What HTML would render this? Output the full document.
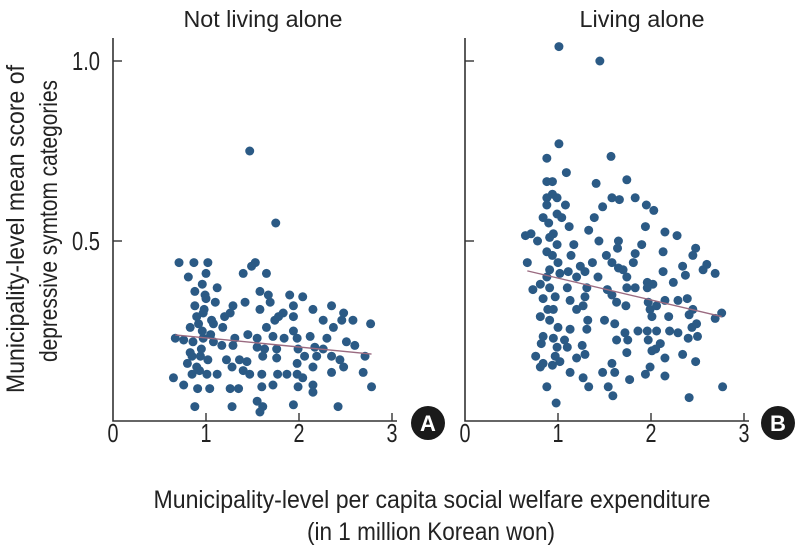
<!DOCTYPE html>
<html><head><meta charset="utf-8"><style>
html,body{margin:0;padding:0;background:#fff;width:800px;height:551px;overflow:hidden}
text{font-family:"Liberation Sans Narrow","Liberation Sans",sans-serif;fill:#222}
</style></head><body>
<svg id="chart" width="800" height="551" viewBox="0 0 800 551" xmlns="http://www.w3.org/2000/svg">
<g id="layer"></g>
</svg>
<script>
const xTicks=[0,1,2,3];
const yTicks=[0.5,1.0];
const yTickLabels=["0.5","1.0"];
const panelTitles=["Not living alone","Living alone"];
const badgeLabels=["A","B"];
const leftX=[0.71,0.87,1.02,1.0,0.81,0.96,1.12,0.88,0.99,1.1,0.88,0.97,0.90,0.83,0.96,1.08,1.18,0.67,0.76,0.86,0.97,1.08,1.17,0.83,0.94,1.02,0.80,0.90,0.85,1.01,1.12,0.65,0.76,0.91,1.04,0.88,1.28,1.26,1.35,1.22,1.36,1.28,1.47,1.29,1.31,1.2,1.29,1.42,1.26,1.4,1.49,1.53,1.65,1.58,1.67,1.69,1.58,1.65,1.74,1.83,1.78,1.9,2.04,1.94,1.94,2.15,2.26,2.35,2.48,2.58,2.46,2.77,2.37,1.94,1.45,1.55,1.72,1.84,1.98,2.12,2.3,2.51,2.6,2.71,1.55,1.63,1.76,1.61,1.76,1.99,2.06,2.17,2.19,2.26,2.35,2.44,2.48,1.98,2.15,2.35,2.69,2.78,1.77,1.87,1.98,2.04,1.99,2.15,2.15,1.6,1.6,1.72,1.55,1.61,1.58,1.94,2.42,1.4,1.44,1.47,1.75,0.92,1.05,0.95,0.85,1.0,0.93,1.06,0.98];
const leftY=[0.44,0.44,0.44,0.41,0.40,0.38,0.37,0.36,0.35,0.33,0.32,0.30,0.29,0.26,0.25,0.27,0.26,0.23,0.225,0.22,0.23,0.22,0.21,0.19,0.18,0.17,0.16,0.15,0.13,0.13,0.13,0.12,0.10,0.09,0.09,0.04,0.04,0.09,0.09,0.17,0.17,0.15,0.13,0.21,0.23,0.29,0.32,0.33,0.30,0.41,0.43,0.44,0.41,0.36,0.35,0.33,0.31,0.26,0.28,0.30,0.29,0.35,0.345,0.32,0.29,0.31,0.28,0.32,0.30,0.28,0.28,0.27,0.26,0.25,0.24,0.23,0.235,0.23,0.23,0.235,0.23,0.22,0.21,0.18,0.205,0.20,0.20,0.18,0.175,0.20,0.18,0.205,0.18,0.20,0.18,0.17,0.15,0.16,0.15,0.135,0.135,0.095,0.13,0.13,0.13,0.12,0.095,0.10,0.08,0.13,0.095,0.10,0.055,0.04,0.025,0.045,0.04,0.14,0.165,0.75,0.55,0.27,0.24,0.20,0.18,0.34,0.14,0.28,0.31];
const rightX=[1.01,1.45,1.01,0.88,1.57,1.09,0.88,0.94,1.41,1.74,0.88,0.94,0.99,0.88,1.08,1.58,1.66,1.83,1.48,1.95,2.03,0.84,0.9,0.99,1.04,1.12,1.39,1.33,1.94,2.15,2.28,0.65,0.71,0.95,0.78,0.91,0.99,1.17,1.44,1.65,1.64,1.9,2.13,2.48,2.45,0.88,0.94,1.14,0.67,1.0,1.37,1.52,1.58,1.83,1.81,1.65,1.7,0.91,1.02,1.11,1.24,1.29,0.88,1.2,1.43,1.74,1.96,2.02,2.13,2.24,2.34,2.37,2.56,2.6,2.69,0.73,0.81,0.91,1.1,1.31,1.53,1.58,1.74,1.83,1.96,0.84,0.97,1.13,1.29,1.2,1.27,1.63,1.73,1.97,2.15,2.29,2.39,2.45,1.99,2.06,2.76,2.69,2.41,2.01,2.19,0.81,0.89,0.95,0.91,1.32,1.5,1.61,1.0,1.13,1.31,1.86,1.96,2.06,2.2,2.29,2.44,2.49,0.84,0.95,1.07,1.72,1.63,1.75,1.97,2.1,2.4,2.5,0.82,0.99,1.1,1.26,1.74,2.01,2.05,0.76,0.97,1.2,1.29,2.34,2.15,0.84,0.94,1.02,0.81,2.48,1.13,1.27,1.48,1.58,1.61,1.77,1.94,1.99,2.15,0.88,1.33,1.54,1.59,2.77,2.41,0.98];
const rightY=[1.04,1.0,0.77,0.73,0.735,0.69,0.665,0.665,0.66,0.67,0.62,0.63,0.62,0.60,0.60,0.62,0.615,0.62,0.595,0.60,0.585,0.565,0.55,0.575,0.565,0.54,0.565,0.53,0.54,0.525,0.515,0.515,0.52,0.52,0.50,0.51,0.49,0.49,0.50,0.50,0.48,0.49,0.47,0.48,0.46,0.47,0.46,0.46,0.44,0.44,0.44,0.46,0.44,0.465,0.44,0.425,0.42,0.42,0.41,0.415,0.43,0.415,0.40,0.40,0.40,0.40,0.385,0.38,0.415,0.385,0.43,0.405,0.42,0.435,0.41,0.365,0.38,0.37,0.37,0.37,0.365,0.35,0.37,0.37,0.37,0.34,0.345,0.335,0.345,0.31,0.32,0.33,0.32,0.33,0.335,0.335,0.34,0.31,0.31,0.32,0.30,0.285,0.295,0.29,0.29,0.29,0.31,0.31,0.28,0.28,0.28,0.27,0.26,0.255,0.255,0.25,0.25,0.25,0.25,0.245,0.26,0.27,0.235,0.23,0.225,0.245,0.225,0.225,0.225,0.215,0.23,0.235,0.215,0.205,0.205,0.21,0.19,0.195,0.20,0.18,0.18,0.175,0.185,0.185,0.175,0.16,0.155,0.165,0.15,0.165,0.135,0.12,0.135,0.16,0.135,0.115,0.13,0.15,0.125,0.095,0.095,0.095,0.07,0.095,0.065,0.05];
const leftFit=[[0.67,0.239],[2.78,0.186]];
const rightFit=[[0.67,0.417],[2.76,0.29]];

const NS="http://www.w3.org/2000/svg";
const layer=document.getElementById('layer');
function mk(tag,attrs,parent){const e=document.createElementNS(NS,tag);for(const k in attrs)e.setAttribute(k,attrs[k]);(parent||layer).appendChild(e);return e;}
const X0=[113,465],XU=93,Y0=421,YU=360;
function sx(p,v){return X0[p]+v*XU;}
function sy(v){return Y0-v*YU;}

const panels=[[leftX,leftY,leftFit],[rightX,rightY,rightFit]];
panels.forEach((pd,p)=>{
  const g=mk('g',{});
  
  
  const ax=mk('path',{d:`M${X0[p]},38 L${X0[p]},${Y0} L${X0[p]+284},${Y0}`,fill:'none',stroke:'#333','stroke-width':1.6},g);
  
  
  xTicks.forEach(t=>{
    if(t>0){const tk=mk('line',{x1:sx(p,t),x2:sx(p,t),y1:Y0,y2:Y0-8,stroke:'#333','stroke-width':1.4},g);
    
    }
    const tl=mk('text',{x:sx(p,t),y:442,'font-size':26,'text-anchor':'middle',textLength:11,lengthAdjust:'spacingAndGlyphs'},g);
    tl.textContent=String(t);
    
    
  });
  yTicks.forEach((t,i)=>{
    const tk=mk('line',{x1:X0[p],x2:X0[p]+9,y1:sy(t),y2:sy(t),stroke:'#333','stroke-width':1.4},g);
    
    
    if(p===0){const tl=mk('text',{x:72,y:sy(t)+9,'font-size':26,'text-anchor':'start',textLength:28,lengthAdjust:'spacingAndGlyphs'},g);
      tl.textContent=yTickLabels[i];
      
      }
  });
  const tt=mk('text',{x:X0[p]+(p===0?150:177),y:27,'font-size':23,'text-anchor':'middle',textLength:(p===0?159:125),lengthAdjust:'spacingAndGlyphs'},g);
  tt.textContent=panelTitles[p];
  
  
  pd[0].forEach((xv,i)=>{
    const c=mk('circle',{cx:sx(p,xv),cy:sy(pd[1][i]),r:4.5,fill:'#2b5a85'},g);
    
    
  });
  const f=pd[2];
  const fl=mk('line',{x1:sx(p,f[0][0]),y1:sy(f[0][1]),x2:sx(p,f[1][0]),y2:sy(f[1][1]),stroke:'#9a6a80','stroke-width':1.4},g);
  
  
  const bx=p===0?428:778;
  const bc=mk('circle',{cx:bx,cy:423,r:17,fill:'#1a1a1a'},g);
  
  
  const bt=mk('text',{x:bx,y:431,'font-size':22,'font-weight':'bold','text-anchor':'middle',style:'fill:#fff;font-family:"Liberation Sans",sans-serif'},g);
  bt.textContent=badgeLabels[p];
  
  
});
const xl1=mk('text',{x:432,y:508,'font-size':25,'text-anchor':'middle',textLength:557,lengthAdjust:'spacingAndGlyphs'});
xl1.textContent="Municipality-level per capita social welfare expenditure";


const xl2=mk('text',{x:431,y:540,'font-size':25,'text-anchor':'middle',textLength:248,lengthAdjust:'spacingAndGlyphs'});
xl2.textContent="(in 1 million Korean won)";


const yl1=mk('text',{x:-229,y:24,'font-size':25,'text-anchor':'middle',transform:'rotate(-90)',textLength:328,lengthAdjust:'spacingAndGlyphs'});
yl1.textContent="Municipality-level mean score of";


const yl2=mk('text',{x:-221,y:57,'font-size':25,'text-anchor':'middle',transform:'rotate(-90)',textLength:282,lengthAdjust:'spacingAndGlyphs'});
yl2.textContent="depressive symtom categories";


</script>
</body></html>
